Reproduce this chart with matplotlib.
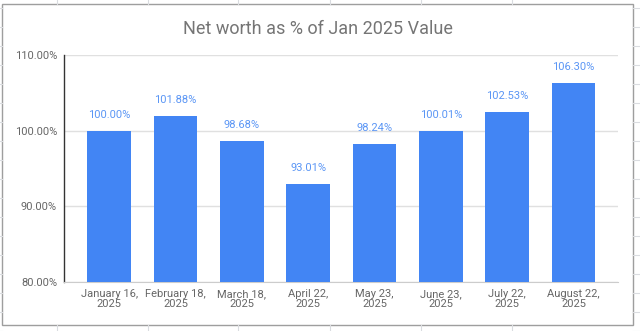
import matplotlib.pyplot as plt
from matplotlib.patches import Rectangle

plt.rcParams['font.family'] = ['Roboto', 'DejaVu Sans']

# Snapshot dates and net worth relative to January
dates = ["January 16,\n2025", "February 18,\n2025", "March 18,\n2025", "April 22,\n2025",
         "May 23,\n2025", "June 23,\n2025", "July 22,\n2025", "August 22,\n2025"]
pct = [100.00, 101.88, 98.68, 93.01, 98.24, 100.01, 102.53, 106.30]
yticks = [80, 90, 100, 110]

W, H = 640, 331
fig = plt.figure(figsize=(W / 100, H / 100), dpi=100)

# sheet cells behind the chart, in pixel coordinates
bg = fig.add_axes([0, 0, 1, 1])
bg.set_xlim(0, W)
bg.set_ylim(H, 0)
bg.axis("off")
cell = "#dadce0"
for x in [57, 148, 238, 330, 421, 512]:
    bg.plot([x, x], [0, 4], color=cell, lw=0.8)
    bg.plot([x, x], [325, H], color=cell, lw=0.8)
for k in range(18):
    y = 8.3 + 19 * k
    bg.plot([633, W], [y, y], color=cell, lw=0.8)
    bg.plot([0, 2], [y, y], color=cell, lw=0.8)
bg.add_patch(Rectangle((1.7, 4.3), 631.6, 320.7, facecolor="white",
                       edgecolor="#9e9e9e", lw=1.0))
bg.text(318, 29, "Net worth as % of Jan 2025 Value", ha="center", va="center",
        fontsize=13, color="#757575")

ax = fig.add_axes([64 / W, 1 - 282 / H, (618 - 64) / W, (282 - 55) / H])
ax.set_facecolor("none")
xs = range(len(pct))
ax.bar(xs, [p - 80 for p in pct], bottom=80, width=0.66, color="#4285F4", zorder=3)
for x, p in zip(xs, pct):
    ax.annotate(f"{p:.2f}%", (x, p), xytext=(0, 11.5), textcoords="offset points",
                ha="center", va="center", fontsize=8, color="#5b96f5")

ax.set_ylim(80, 110)
ax.set_xlim(-0.68, len(pct) - 1 + 0.67)
ax.set_yticks(yticks)
ax.set_yticklabels([f"{t:.2f}%" for t in yticks])
ax.set_xticks(list(xs))
ax.set_xticklabels(dates, linespacing=0.95)
ax.tick_params(axis="both", length=0, labelsize=8, labelcolor="#666666")
ax.tick_params(axis="x", pad=5)
ax.tick_params(axis="y", pad=5)
ax.grid(axis="y", color="#e0e0e0", lw=1.0, zorder=0)
for s in ["top", "right"]:
    ax.spines[s].set_visible(False)
ax.spines["bottom"].set_color("#cccccc")
ax.spines["left"].set_color("#333333")
ax.spines["left"].set_linewidth(1.0)

fig.savefig("out.png", dpi=100)
